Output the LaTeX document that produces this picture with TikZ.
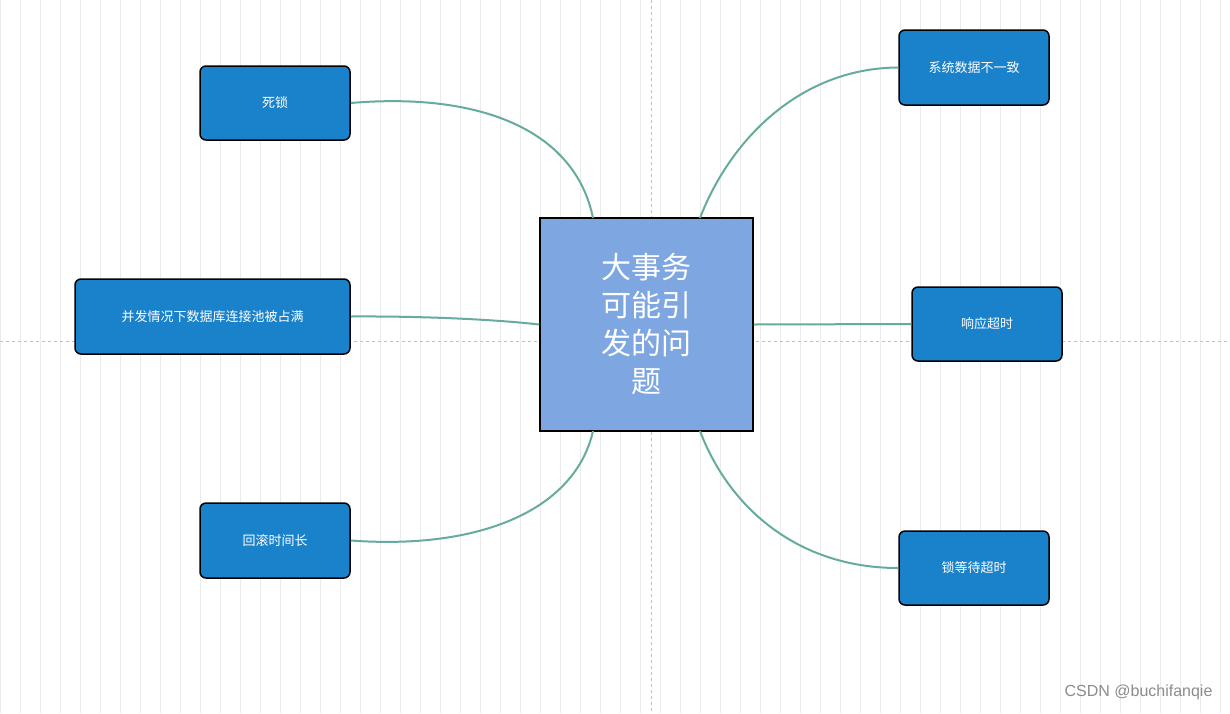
\documentclass[tikz,border=0pt]{standalone}
\usepackage{fontspec}
\setmainfont{Noto Sans CJK SC}
\newfontfamily\wm{Liberation Sans}
\definecolor{boxb}{HTML}{1A82CA}
\definecolor{cent}{HTML}{7EA6E0}
\definecolor{lnk}{HTML}{67AB9F}
\begin{document}
\begin{tikzpicture}[x=1pt,y=-1pt,
  leaf/.style={draw=black,line width=1.5pt,fill=boxb,rounded corners=6pt,text=white,font=\fontsize{13}{15}\selectfont,inner sep=0pt},
  link/.style={draw=lnk,line width=2pt}]
\useasboundingbox (0,0) rectangle (1230,713);
\fill[white] (0,0) rectangle (1230,713);
\draw[black!8,line width=0.5pt,step=20] (0,0) grid (1230,713);
\draw[black!25,dashed,line width=0.6pt] (651,0)--(651,713) (0,341)--(1230,341);
\node[draw=black,line width=1.5pt,fill=cent,minimum width=213,minimum height=213,text=white,align=center,font=\fontsize{30}{38}\selectfont] (c) at (646.5,324.5) {大事务\\可能引\\发的问\\题};
\node[leaf,minimum width=150,minimum height=74] (a) at (275,103) {死锁};
\node[leaf,minimum width=275,minimum height=75] (b) at (212.5,316.5) {并发情况下数据库连接池被占满};
\node[leaf,minimum width=150,minimum height=75] (d) at (275,540.5) {回滚时间长};
\node[leaf,minimum width=150,minimum height=75] (e) at (974,67.5) {系统数据不一致};
\node[leaf,minimum width=150,minimum height=74] (f) at (987,324) {响应超时};
\node[leaf,minimum width=150,minimum height=74] (g) at (974,568) {锁等待超时};
\coordinate (c1) at (593,218); \coordinate (c2) at (700,218);
\coordinate (c3) at (593,431); \coordinate (c4) at (700,431);
\draw[link] (a.east) .. controls (480,92) and (575,130) .. (c1);
\draw[link] (b.east) .. controls (430,316) and (500,320) .. (c.west);
\draw[link] (d.east) .. controls (480,550) and (575,510) .. (c3);
\draw[link] (e.west) .. controls (800,68) and (730,140) .. (c2);
\draw[link] (c.east) -- (f.west);
\draw[link] (g.west) .. controls (800,568) and (730,510) .. (c4);
\node[text=black!45,font=\wm\fontsize{16}{18}\selectfont,anchor=east] (w) at (1216,692) {CSDN @buchifanqie};
\end{tikzpicture}
\end{document}
